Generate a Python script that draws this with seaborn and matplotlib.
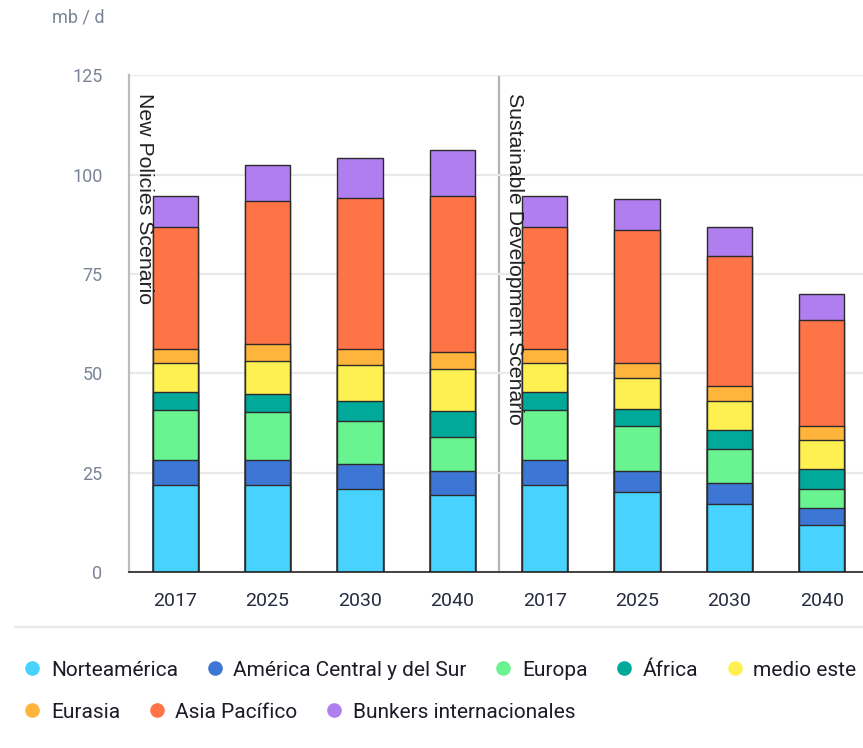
import matplotlib
matplotlib.use("Agg")
import matplotlib.pyplot as plt
from matplotlib.lines import Line2D
import numpy as np
import pandas as pd
import seaborn as sns

# Demanda de petróleo por región (mb/d)
escenarios = ["New Policies Scenario"] * 4 + ["Sustainable Development Scenario"] * 4
anios = ["2017", "2025", "2030", "2040", "2017", "2025", "2030", "2040"]

regiones = ["Norteamérica", "América Central y del Sur", "Europa", "África",
            "medio este", "Eurasia", "Asia Pacífico", "Bunkers internacionales"]

norteamerica = [22.0, 22.0, 21.0, 19.3, 22.0, 20.2, 17.1, 11.9]
america_cs = [6.1, 6.1, 6.1, 6.1, 6.1, 5.2, 5.2, 4.1]
europa = [12.8, 12.1, 10.9, 8.6, 12.8, 11.3, 8.6, 5.0]
africa = [4.4, 4.7, 5.1, 6.6, 4.4, 4.3, 4.8, 4.9]
medio_este = [7.3, 8.2, 9.1, 10.4, 7.3, 7.9, 7.4, 7.3]
eurasia = [3.5, 4.4, 3.9, 4.3, 3.5, 3.8, 3.8, 3.6]
asia_pacifico = [30.8, 35.9, 38.1, 39.3, 30.8, 33.4, 32.6, 26.6]
bunkers = [7.7, 9.0, 9.9, 11.6, 7.7, 7.7, 7.4, 6.6]

colores = ["#48d3ff", "#3d76d4", "#69f391", "#00a99a",
           "#fff052", "#ffb43c", "#ff7446", "#b07eef"]

series = [norteamerica, america_cs, europa, africa,
          medio_este, eurasia, asia_pacifico, bunkers]

casos = [f"{e} {a}" for e, a in zip(escenarios, anios)]

# Tabla larga con el acumulado de cada capa
filas = []
acum = np.zeros(len(casos))
for reg, vals in zip(regiones, series):
    acum = acum + np.array(vals)
    for c, v in zip(casos, acum):
        filas.append({"caso": c, "region": reg, "acumulado": v})
df = pd.DataFrame(filas)

sns.set_theme(style="white")
plt.rcParams["font.family"] = ["Roboto", "DejaVu Sans"]

fig = plt.figure(figsize=(8.63, 7.48), dpi=100)
ax = fig.add_axes([129 / 863, 176 / 748, (868 - 129) / 863, (572 - 75.4) / 748])

# Capas apiladas: de la suma total hacia abajo
for reg, col in reversed(list(zip(regiones, colores))):
    sns.barplot(data=df[df["region"] == reg], x="caso", y="acumulado",
                order=casos, color=col, saturation=1, width=0.49,
                edgecolor="#2b2b2b", linewidth=1.0, errorbar=None, ax=ax)

ax.set_xlim(-0.5, 7.5)
ax.set_ylim(0, 125)
ax.set_xlabel("")
ax.set_ylabel("")

# Rejilla horizontal
ax.set_yticks([0, 25, 50, 75, 100, 125])
ax.yaxis.grid(True, color="#e9e9e9", linewidth=1.6)
ax.xaxis.grid(False)
ax.set_axisbelow(True)

ax.tick_params(axis="y", length=0, pad=19, labelsize=13, labelcolor="#7a8496")
ax.set_xticks(range(len(casos)))
ax.set_xticklabels(anios)
ax.set_xticks(np.arange(-0.5, 8.0, 1.0), minor=True)
ax.tick_params(axis="x", which="major", length=0, pad=14.5, labelsize=14,
               labelcolor="#262b40")
ax.tick_params(axis="x", which="minor", length=11.5, width=1.2, color="#222222")

for s in ["top", "right"]:
    ax.spines[s].set_visible(False)
ax.spines["left"].set_color("#bdbdbd")
ax.spines["left"].set_linewidth(1.6)
ax.spines["bottom"].set_color("#222222")
ax.spines["bottom"].set_linewidth(1.2)

# Separación entre escenarios
ax.axvline(3.5, color="#b3b3b3", linewidth=1.6, zorder=0.5)
ax.text(-0.43, 120.6, "New Policies Scenario", rotation=270, ha="left",
        va="top", fontsize=15.3, color="#222222",
        family=["Liberation Sans", "DejaVu Sans"])
ax.text(3.57, 120.6, "Sustainable Development Scenario", rotation=270,
        ha="left", va="top", fontsize=15.3, color="#222222",
        family=["Liberation Sans", "DejaVu Sans"])

fig.text(52 / 863, 1 - 18 / 748, "mb / d", ha="left", va="center",
         fontsize=13, color="#7a8496")

# Línea sobre la leyenda
fig.add_artist(Line2D([15 / 863, 1.0], [1 - 627 / 748, 1 - 627 / 748],
                      color="#e8e8e8", linewidth=1.6))

def marcador(col):
    return Line2D([], [], marker="o", linestyle="", markersize=9.5,
                  markerfacecolor=col, markeredgecolor=col)

handles = [marcador(c) for c in colores]
leg_kw = dict(frameon=False, fontsize=15, handletextpad=0.45,
              columnspacing=1.3, handlelength=0.9, borderaxespad=0,
              borderpad=0, labelcolor="#1c1c28")
fig.legend(handles[:5], regiones[:5], ncol=5, loc="center left",
           bbox_to_anchor=(23 / 863, 1 - 670 / 748), **leg_kw)
fig.legend(handles[5:], regiones[5:], ncol=3, loc="center left",
           bbox_to_anchor=(23 / 863, 1 - 712 / 748), **leg_kw)

fig.savefig("out.png", dpi=100)
